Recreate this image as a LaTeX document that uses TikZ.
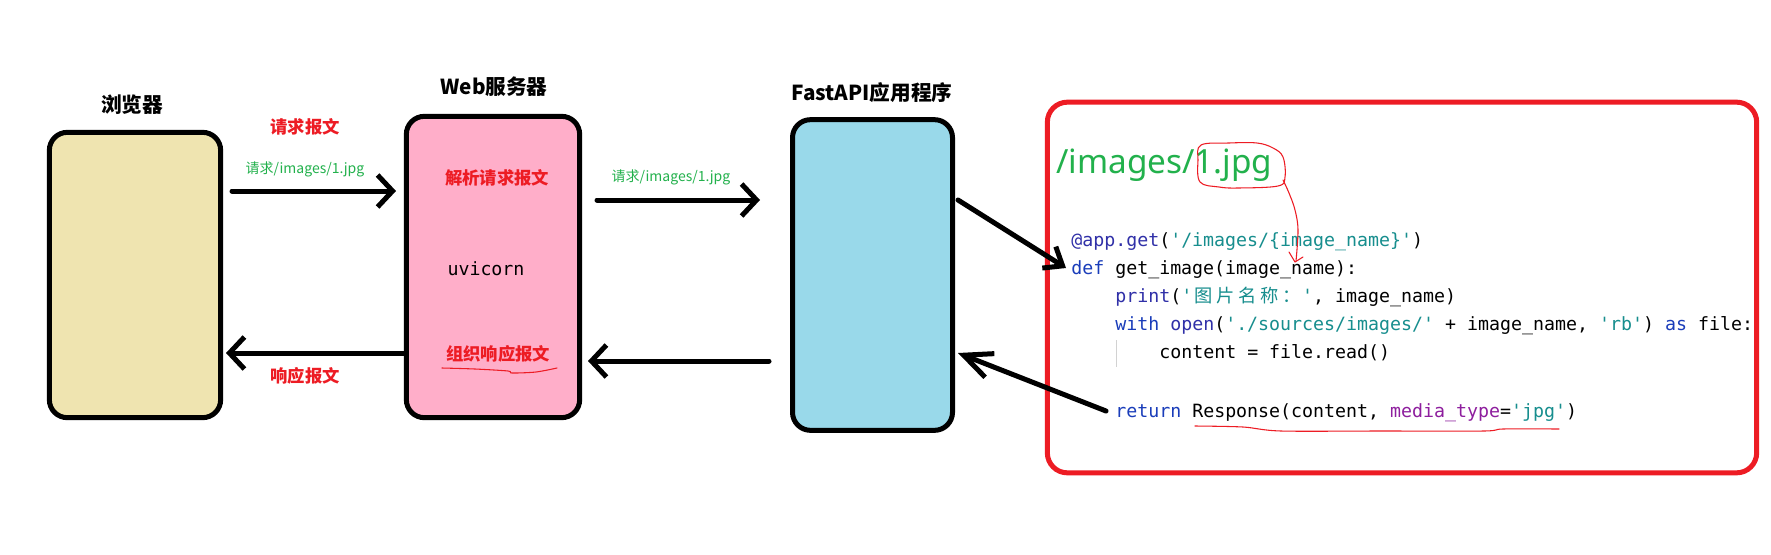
\documentclass[tikz,border=0pt]{standalone}
\usepackage{fontspec}
\setmonofont{DejaVu Sans Mono}
\newfontfamily\cjk{Noto Sans CJK SC}
\newfontfamily\lat{Noto Sans}
\usetikzlibrary{arrows.meta}
\definecolor{cbr}{HTML}{EFE4B0}
\definecolor{cweb}{HTML}{FFAEC9}
\definecolor{cfa}{HTML}{99D9EA}
\definecolor{cred}{HTML}{ED1C24}
\definecolor{cgreen}{HTML}{22B14C}
\definecolor{ckw}{HTML}{1A3DBA}
\definecolor{cfn}{HTML}{3030A8}
\definecolor{cstr}{HTML}{178E8E}
\definecolor{carg}{HTML}{8E1E9E}
\newcommand{\cc}[1]{\makebox[2\fontcharwd\font`M][c]{\cjk #1}}
\begin{document}
\begin{tikzpicture}[x=0.75pt,y=-0.75pt,
  box/.style={draw=black, line width=3.75pt, rounded corners=13.5pt, inner sep=0pt, outer sep=0pt},
  redbox/.style={draw=cred, line width=3.75pt, rounded corners=15pt, inner sep=0pt, outer sep=0pt},
  arr/.style={draw=black, line width=3.75pt, line cap=round, -{Straight Barb[length=11.25pt,width=24pt]}},
  arrd/.style={draw=black, line width=3.75pt, line cap=round, -{Straight Barb[length=12pt,width=19pt]}},
  arrl/.style={draw=black, line width=3.75pt, line cap=round, -{Straight Barb[length=21pt,width=19pt]}},
  title/.style={font=\cjk\bfseries\fontsize{15.5pt}{18pt}\selectfont, inner sep=0pt},
  redlab/.style={font=\cjk\bfseries\fontsize{13pt}{16pt}\selectfont, text=cred, inner sep=0pt},
  greenlab/.style={font=\cjk\fontsize{10.5pt}{12pt}\selectfont, text=cgreen, inner sep=0pt},
  code/.style={font=\ttfamily\frenchspacing\fontsize{13.7pt}{16pt}\selectfont, anchor=base west, inner sep=0pt},
  hand/.style={draw=cred, line width=0.8pt, line cap=round, line join=round}
]
\useasboundingbox (0,0) rectangle (1771,554);
\fill[white] (0,0) rectangle (1771,554);

% boxes
\node[box, fill=cbr, minimum width=128.5pt, minimum height=214pt] (br) at (135,275) {};
\node[box, fill=cweb, minimum width=130pt, minimum height=226pt] (web) at (493,267) {};
\node[box, fill=cfa, minimum width=120pt, minimum height=233pt] (fa) at (872.5,275) {};
\node[redbox, minimum width=532pt, minimum height=278pt] (code) at (1402,287.5) {};

% titles
\node[title] (tbr) at (132,105) {浏览器};
\node[title] (tweb) at (494,87) {Web服务器};
\node[title] (tfa) at (872,93) {FastAPI应用程序};

% labels
\node[redlab] (req) at (305,127) {请求报文};
\node[greenlab] (reqg) at (305,169) {请求/images/1.jpg};
\node[redlab] (resp) at (305,376) {响应报文};
\node[redlab] (parse) at (497,178) {解析请求报文};
\node[code, anchor=center] (uv) at (486,269) {uvicorn};
\node[redlab] (org) at (498,354) {组织响应报文};
\node[greenlab] (reqg2) at (671,177) {请求/images/1.jpg};

% connectors
\coordinate (a1s) at (232,191); \coordinate (a1e) at (396,191);
\coordinate (a2s) at (597,200); \coordinate (a2e) at (760,200);
\coordinate (a3s) at (769,361); \coordinate (a3e) at (588,361);
\coordinate (a4s) at (404,353); \coordinate (a4e) at (226,353);
\coordinate (d1s) at (958,200); \coordinate (d1e) at (1066,268);
\coordinate (d2s) at (1106,411); \coordinate (d2e) at (958,353);
\draw[arr] (a1s) -- (a1e);
\draw[arr] (a2s) -- (a2e);
\draw[arr] (a3s) -- (a3e);
\draw[arr] (a4s) -- (a4e);
\draw[arrd] (d1s) -- (d1e);
\draw[arrl] (d2s) -- (d2e);

% code panel
\node[font=\lat\fontsize{25pt}{30pt}\selectfont, text=cgreen, anchor=base west, inner sep=0pt] (url) at (1056,173) {/images/1.jpg};
\node[code] (l1) at (1071,246) {\textcolor{cfn}{@app.get}(\textcolor{cstr}{'/images/\{image\_name\}'})};
\node[code] (l2) at (1071,274) {\textcolor{ckw}{def} get\_image(image\_name):};
\node[code] (l3) at (1115,302) {\textcolor{cfn}{print}(\textcolor{cstr}{'\cc{图}\cc{片}\cc{名}\cc{称}\cc{：}'}, image\_name)};
\node[code] (l4) at (1115,330) {\textcolor{ckw}{with} \textcolor{cfn}{open}(\textcolor{cstr}{'./sources/images/'} + image\_name, \textcolor{cstr}{'rb'}) \textcolor{ckw}{as} file:};
\node[code] (l5) at (1159,358) {content = file.read()};
\node[code] (l6) at (1115,417) {\textcolor{ckw}{return} Response(content, \textcolor{carg}{media\_type}=\textcolor{cstr}{'jpg'})};
\draw[gray!35, line width=0.75pt] (1116,340) -- (1116,367);

% hand drawn red marks
\draw[hand] plot[smooth cycle, tension=0.6] coordinates {(1201,145) (1229,143) (1257,143) (1273,148) (1283,157) (1285,177) (1278,186) (1238,188) (1219,187) (1200,182) (1198,160)};
\draw[hand] plot[smooth, tension=0.6] coordinates {(1283,180) (1289,193) (1295,210) (1298,230) (1296,261)};
\draw[hand] (1289,252) -- (1295,262) -- (1303,257);
\draw[hand] plot[smooth, tension=0.5] coordinates {(442,368) (475,369) (508,371) (512,373) (536,372) (557,368)};
\draw[hand] plot[smooth, tension=0.5] coordinates {(1195,426) (1243,427) (1281,431) (1382,431) (1484,431) (1503,429) (1559,429)};
\end{tikzpicture}
\end{document}
